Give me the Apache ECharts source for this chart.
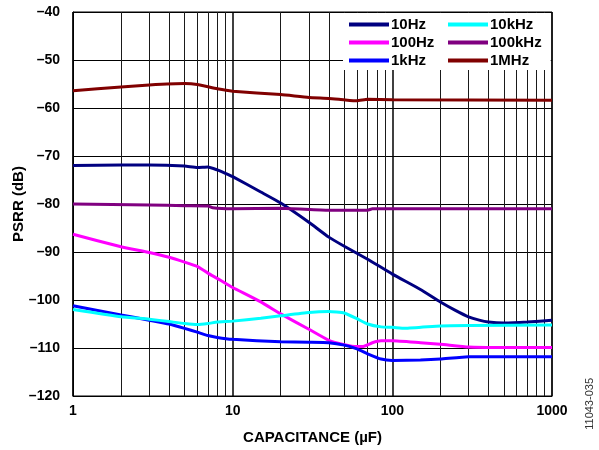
<!DOCTYPE html>
<html>
<head>
<meta charset="utf-8">
<script src="https://cdn.jsdelivr.net/npm/echarts@6/dist/echarts.min.js"></script>
<style>html,body{margin:0;padding:0;background:#fff}#c{width:599px;height:450px}</style>
</head>
<body>
<div id="c"></div>
<script>
// ---- data (capacitance in µF, PSRR in dB) ----
const seriesNames = ['10Hz', '100Hz', '1kHz', '10kHz', '100kHz', '1MHz'];
const xTickLabels = ['1', '10', '100', '1000'];
const yTicks = [-120, -110, -100, -90, -80, -70, -60, -50, -40];

const psrr10Hz = [[1,-72.0],[2,-71.9],[3,-71.9],[5,-72.1],[6,-72.4],[7,-72.3],[8,-72.9],[9,-73.6],[10,-74.3],[15,-77.5],[20,-79.8],[30,-83.8],[40,-86.9],[50,-88.8],[70,-91.5],[100,-94.6],[150,-97.8],[200,-100.4],[250,-102.2],[300,-103.5],[350,-104.2],[400,-104.6],[500,-104.8],[700,-104.6],[1000,-104.2]];
const psrr100Hz = [[1,-86.3],[2,-88.9],[3,-90.1],[4,-91.1],[5,-92.1],[6,-93.0],[7,-94.4],[8,-95.5],[9,-96.5],[10,-97.4],[15,-100.4],[20,-102.9],[30,-106.1],[40,-108.4],[50,-109.3],[60,-109.7],[65,-109.7],[75,-108.9],[85,-108.5],[100,-108.5],[150,-108.9],[200,-109.2],[300,-109.8],[500,-109.9],[1000,-109.9]];
const psrr1kHz = [[1,-101.2],[2,-103.1],[3,-104.2],[4,-105.0],[5,-105.9],[6,-106.7],[7,-107.4],[8,-107.8],[10,-108.2],[20,-108.7],[30,-108.8],[40,-108.9],[50,-109.4],[60,-110.2],[70,-111.2],[85,-112.3],[100,-112.6],[150,-112.5],[200,-112.3],[300,-111.8],[500,-111.8],[1000,-111.8]];
const psrr10kHz = [[1,-102.0],[2,-103.5],[3,-104.0],[4,-104.5],[5,-104.9],[6,-105.1],[7,-104.9],[8,-104.6],[10,-104.4],[15,-103.8],[20,-103.3],[30,-102.6],[40,-102.4],[50,-102.7],[60,-103.9],[70,-105.0],[85,-105.6],[100,-105.7],[120,-105.9],[200,-105.4],[300,-105.3],[1000,-105.2]];
const psrr100kHz = [[1,-80.0],[3,-80.2],[5,-80.35],[7,-80.4],[7.5,-80.8],[10,-81.0],[20,-80.9],[40,-81.3],[70,-81.3],[75,-81.0],[100,-81.0],[1000,-81.0]];
const psrr1MHz = [[1,-56.4],[2,-55.6],[3,-55.2],[5,-54.9],[6,-55.1],[8,-56.0],[10,-56.5],[20,-57.2],[30,-57.8],[40,-58.0],[50,-58.3],[60,-58.5],[70,-58.2],[100,-58.3],[1000,-58.4]];

const seriesData = [psrr10Hz, psrr100Hz, psrr1kHz, psrr10kHz, psrr100kHz, psrr1MHz];
const seriesColors = ['#000080', '#ff00ff', '#0000ff', '#00ffff', '#800080', '#800000'];

// minor log gridline positions (2..9 in each decade)
const minorGrid = [];
[1, 10, 100].forEach(function (d) { for (let k = 2; k <= 9; k++) minorGrid.push(d * k); });

const FONT = "'Liberation Sans', Arial, Helvetica, sans-serif";
const chart = echarts.init(document.getElementById('c'), null, { renderer: 'canvas' });

const series = seriesNames.map(function (n, i) {
  return {
    name: n, type: 'line', data: seriesData[i], showSymbol: false, symbol: 'none',
    smooth: 0.15, z: 10, lineStyle: { color: seriesColors[i], width: 3 }, itemStyle: { color: seriesColors[i] },
    animation: false, silent: true
  };
});
series.push({
  name: 'minorgrid', type: 'line', data: [], z: 1, silent: true, animation: false,
  markLine: {
    silent: true, symbol: 'none', z: 1, animation: false,
    label: { show: false },
    lineStyle: { color: '#1a1a1a', width: 1, type: 'solid' },
    emphasis: { disabled: true },
    data: minorGrid.map(function (v) { return { xAxis: v }; })
  }
});

const legendCommon = {
  orient: 'vertical', itemWidth: 40, itemHeight: 4, icon: 'rect', itemGap: 3,
  backgroundColor: '#fff', z: 20, selectedMode: false,
  textStyle: { fontFamily: FONT, fontWeight: 'bold', fontSize: 15, color: '#000', padding: [0, 0, 0, -3] }
};

chart.setOption({
  animation: false,
  grid: {
    left: 73, right: 47, top: 12, bottom: 54, containLabel: false, outerBoundsMode: 'none',
    show: true, borderColor: '#000', borderWidth: 1, backgroundColor: '#fff'
  },
  legend: [
    Object.assign({}, legendCommon, { left: 343, top: 13, padding: [4, 20, 2, 6], data: ['10Hz', '100Hz', '1kHz'] }),
    Object.assign({}, legendCommon, { left: 442, top: 13, padding: [4, 9, 2, 6], data: ['10kHz', '100kHz', '1MHz'] })
  ],
  xAxis: {
    type: 'log', logBase: 10, min: 1, max: 1000,
    name: 'CAPACITANCE (µF)', nameLocation: 'middle', nameGap: 34, nameMoveOverlap: false,
    nameTextStyle: { fontFamily: FONT, fontWeight: 'bold', fontSize: 15, color: '#000' },
    axisLine: { show: true, lineStyle: { color: '#000', width: 1 } },
    axisTick: { show: false },
    splitLine: { show: true, lineStyle: { color: '#000', width: 1.5 } },
    axisLabel: {
      margin: 8, fontFamily: FONT, fontWeight: 'bold', fontSize: 14, color: '#000',
      formatter: function (v) { const i = Math.round(Math.log10(v)); return xTickLabels[i] !== undefined ? xTickLabels[i] : String(v); }
    }
  },
  yAxis: {
    type: 'value', min: yTicks[0], max: yTicks[yTicks.length - 1], interval: 10,
    name: 'PSRR (dB)', nameLocation: 'middle', nameGap: 47, nameRotate: 90, nameMoveOverlap: false,
    nameTextStyle: { fontFamily: FONT, fontWeight: 'bold', fontSize: 15, color: '#000' },
    axisLine: { show: true, lineStyle: { color: '#000', width: 1 } },
    axisTick: { show: false },
    splitLine: { show: true, lineStyle: { color: '#000', width: 1 } },
    axisLabel: {
      margin: 13, fontFamily: FONT, fontWeight: 'bold', fontSize: 14, color: '#000',
      formatter: function (v) { return String(v).replace('-', '\u2013'); }
    }
  },
  graphic: [{
    type: 'text', left: 584, top: 378, rotation: Math.PI / 2,
    style: { text: '11043-035', font: "11px " + FONT, fill: '#333' }
  }],
  series: series
});
</script>
</body>
</html>
